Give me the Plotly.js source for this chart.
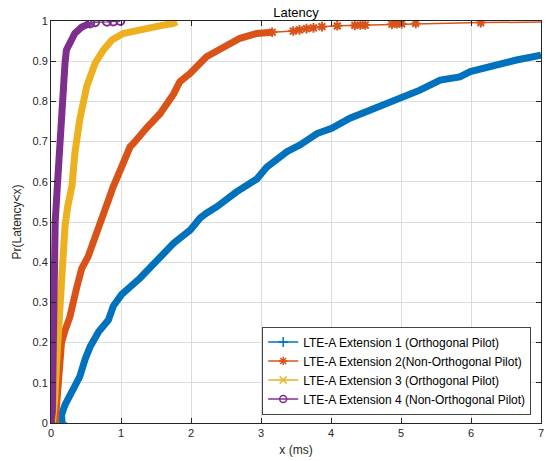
<!DOCTYPE html>
<html>
<head>
<meta charset="utf-8">
<script src="https://cdn.plot.ly/plotly-3.0.1.min.js"></script>
<style>html,body{margin:0;padding:0;background:#fff}#chart{width:549px;height:461px}</style>
</head>
<body>
<div id="chart"></div>
<script>
// Series names
const names = [
  'LTE-A Extension 1 (Orthogonal Pilot)',
  'LTE-A Extension 2(Non-Orthogonal Pilot)',
  'LTE-A Extension 3 (Orthogonal Pilot)',
  'LTE-A Extension 4 (Non-Orthogonal Pilot)'
];

// Extension 1 (dense CDF samples)
const x1 = [0.16,0.15,0.20,0.30,0.41,0.49,0.56,0.68,0.82,0.89,1.01,1.27,1.51,1.75,1.99,2.13,2.22,2.37,2.65,2.94,3.08,3.37,3.56,3.80,4.01,4.27,4.51,4.80,5.01,5.27,5.56,5.84,5.99,6.18,6.41,6.65,7.0];
const y1 = [0,0.02,0.045,0.08,0.115,0.16,0.19,0.227,0.256,0.291,0.32,0.36,0.405,0.447,0.48,0.51,0.522,0.538,0.575,0.607,0.636,0.675,0.692,0.72,0.733,0.758,0.775,0.795,0.812,0.828,0.853,0.861,0.874,0.882,0.895,0.903,0.915];

// Extension 2 dense part and sparse tail
const x2 = [0.06,0.07,0.10,0.15,0.20,0.27,0.37,0.44,0.53,0.60,0.70,0.75,0.89,1.03,1.13,1.18,1.32,1.37,1.56,1.75,1.84,1.99,2.22,2.46,2.70,2.94,3.16];
const y2 = [0,0.02,0.1,0.2,0.23,0.264,0.339,0.385,0.414,0.447,0.497,0.53,0.588,0.646,0.687,0.696,0.729,0.735,0.77,0.818,0.849,0.87,0.911,0.936,0.957,0.969,0.972];
const x2tail = [3.16,3.46,3.55,3.65,3.75,3.87,4.09,4.34,4.42,4.49,4.87,4.94,5.01,5.21,6.14,7.5];
const y2tail = [0.972,0.975,0.978,0.981,0.983,0.986,0.988,0.989,0.990,0.990,0.992,0.993,0.993,0.994,0.996,0.998];

// Extension 3
const x3 = [0.02,0.05,0.08,0.11,0.14,0.17,0.20,0.24,0.30,0.34,0.41,0.51,0.58,0.63,0.75,0.87,1.03,1.20,1.37,1.55,1.75,1.80];
const y3 = [0,0.05,0.15,0.25,0.35,0.43,0.49,0.54,0.59,0.67,0.754,0.837,0.87,0.895,0.928,0.953,0.969,0.976,0.982,0.988,0.994,0.998];

// Extension 4 dense part and sparse tail
const x4 = [0,0.02,0.025,0.03,0.035,0.045,0.06,0.09,0.115,0.138,0.176,0.20,0.22,0.30,0.34,0.44,0.56];
const y4 = [0,0.03,0.1,0.2,0.3,0.4,0.5,0.588,0.671,0.754,0.837,0.895,0.928,0.953,0.969,0.985,0.994];
const x4tail = [0.56,0.63,0.80,0.89,0.99];
const y4tail = [0.994,0.997,0.998,0.999,1.0];

const colors = ['#0072BD','#D95319','#EDB120','#7E2F8E'];
const symbols = ['cross-thin-open','asterisk-open','x-thin-open','circle-open'];
const dense = [[x1,y1],[x2,y2],[x3,y3],[x4,y4]];
const tails = [null,[x2tail,y2tail],null,[x4tail,y4tail]];

const traces = [];
dense.forEach((d,i)=>{
  if (tails[i]) {
    traces.push({x:tails[i][0], y:tails[i][1], type:'scatter', mode:'lines+markers', showlegend:false,
      line:{color:colors[i], width:1.5}, marker:{symbol:symbols[i], size:8, color:colors[i], line:{color:colors[i], width:2}}});
  }
  traces.push({x:d[0], y:d[1], type:'scatter', mode:'lines', showlegend:false,
    line:{color:colors[i], width:7, shape:'linear'}});
  traces.push({x:[d[0][0]], y:[d[1][0]], type:'scatter', mode:'markers', showlegend:false,
    marker:{symbol:symbols[i], size:7, color:colors[i], line:{color:colors[i], width:1.5}}});
});
// legend entries
names.forEach((n,i)=>{
  traces.push({x:[null], y:[null], type:'scatter', mode:'lines+markers', name:n,
    line:{color:colors[i], width:1.5}, marker:{symbol:symbols[i], size:7, color:colors[i], line:{color:colors[i], width:1.5}}});
});

const font = 'Liberation Sans, Arial, Helvetica, sans-serif';
const axisCommon = {
  ticks:'inside', ticklen:5, tickcolor:'#262626', mirror:'allticks', showline:true,
  linecolor:'#262626', linewidth:1, showgrid:true, gridcolor:'#dcdcdc', gridwidth:1,
  zeroline:false, tickfont:{family:font, size:11, color:'#262626'}, fixedrange:true
};
const layout = {
  width:549, height:461,
  margin:{l:51, r:8, t:21, b:38},
  paper_bgcolor:'#fff', plot_bgcolor:'#fff',
  font:{family:font, color:'#262626', size:12},
  title:{text:'Latency', font:{family:font, size:13, color:'#000'}, x:0.5, xref:'paper', y:1-12/461, yref:'container', yanchor:'middle'},
  xaxis:Object.assign({}, axisCommon, {range:[0,7], dtick:1, tick0:0,
    title:{text:'x (ms)', font:{family:font, size:12, color:'#262626'}, standoff:7}}),
  yaxis:Object.assign({}, axisCommon, {range:[0,1], dtick:0.1, tick0:0,
    title:{text:'Pr(Latency&lt;x)', font:{family:font, size:12, color:'#262626'}, standoff:8}}),
  showlegend:true,
  legend:{x:0.431, y:0.24, xanchor:'left', yanchor:'top', bgcolor:'#fff', bordercolor:'#444', borderwidth:1,
    font:{family:font, size:12, color:'#000'}, tracegroupgap:0, itemwidth:30},
};
Plotly.newPlot('chart', traces, layout, {staticPlot:true, displayModeBar:false});
</script>
</body>
</html>
